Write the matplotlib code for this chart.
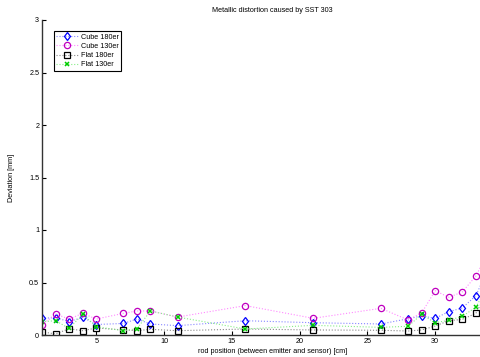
import numpy as np
import matplotlib.pyplot as plt

plt.rcParams['font.family'] = ['Liberation Sans', 'DejaVu Sans']

# posiciones de la varilla [cm]
posicion = [1, 2, 3, 4, 5, 7, 8, 9, 11, 16, 21, 26, 28, 29, 30, 31, 32, 33, 34]

# desviaciones medidas [mm]
cube_180 = [0.16, 0.165, 0.127, 0.168, 0.10, 0.11, 0.152, 0.105, 0.089, 0.136,
            0.117, 0.105, 0.155, 0.181, 0.159, 0.222, 0.257, 0.375, 0.66]
cube_130 = [0.095, 0.20, 0.152, 0.206, 0.152, 0.206, 0.229, 0.229, 0.171, 0.28,
            0.159, 0.254, 0.143, 0.21, 0.422, 0.359, 0.41, 0.562, 0.81]
flat_180 = [0.03, 0.01, 0.06, 0.041, 0.067, 0.048, 0.041, 0.054, 0.041, 0.057,
            0.048, 0.045, 0.038, 0.048, 0.086, 0.136, 0.149, 0.206, 0.45]
flat_130 = [0.127, 0.136, 0.063, 0.197, 0.079, 0.041, 0.06, 0.229, 0.171, 0.057,
            0.092, 0.073, 0.083, 0.197, 0.117, 0.14, 0.178, 0.264, 0.5]

fs = 5.2

fig = plt.figure(figsize=(4.81, 3.57), dpi=100)
ax = fig.add_axes([42/481, 22/357, 461/481, 315/357])

# linea punteada clara, marcador con el color pleno
ax.plot(posicion, cube_180, ':', color='#8888ff', lw=0.8, marker='d', ms=4.5,
        mfc='none', mec='b', mew=0.9, label='Cube 180er')
ax.plot(posicion, cube_130, ':', color='#ff88ff', lw=0.8, marker='o', ms=4.5,
        mfc='none', mec='m', mew=0.9, label='Cube 130er')
ax.plot(posicion, flat_180, ':', color='#888888', lw=0.8, marker='s', ms=3.8,
        mfc='none', mec='k', mew=0.9, label='Flat 180er')
ax.plot(posicion, flat_130, ':', color='#88ee88', lw=0.8, marker='x', ms=3.2,
        mec='#00cc00', mew=1.1, label='Flat 130er')

ax.set_xlim(1, 35)
ax.set_ylim(0, 3)
ax.set_xticks([5, 10, 15, 20, 25, 30])
ax.set_yticks([0, 0.5, 1, 1.5, 2, 2.5, 3])
ax.set_yticklabels(['0', '0.5', '1', '1.5', '2', '2.5', '3'])

ax.spines['top'].set_visible(False)
ax.spines['right'].set_visible(False)
for s in ['left', 'bottom']:
    ax.spines[s].set_linewidth(1.0)
    ax.spines[s].set_color('#333333')
ax.tick_params(direction='in', length=3, width=0.8, labelsize=fs, pad=2)

ax.set_title('Metallic distortion caused by SST 303', fontsize=fs, pad=6)
ax.set_xlabel('rod position (between emitter and sensor) [cm]', fontsize=fs, labelpad=2)
ax.set_ylabel('Deviation [mm]', fontsize=fs, labelpad=10)

leg = ax.legend(loc='upper left', fontsize=fs, bbox_to_anchor=(0.018, 0.975),
                fancybox=False, edgecolor='k', framealpha=1, handlelength=3,
                borderpad=0.3, labelspacing=0.3, handletextpad=0.4)
leg.get_frame().set_linewidth(0.8)

fig.savefig('out.png', dpi=100)
